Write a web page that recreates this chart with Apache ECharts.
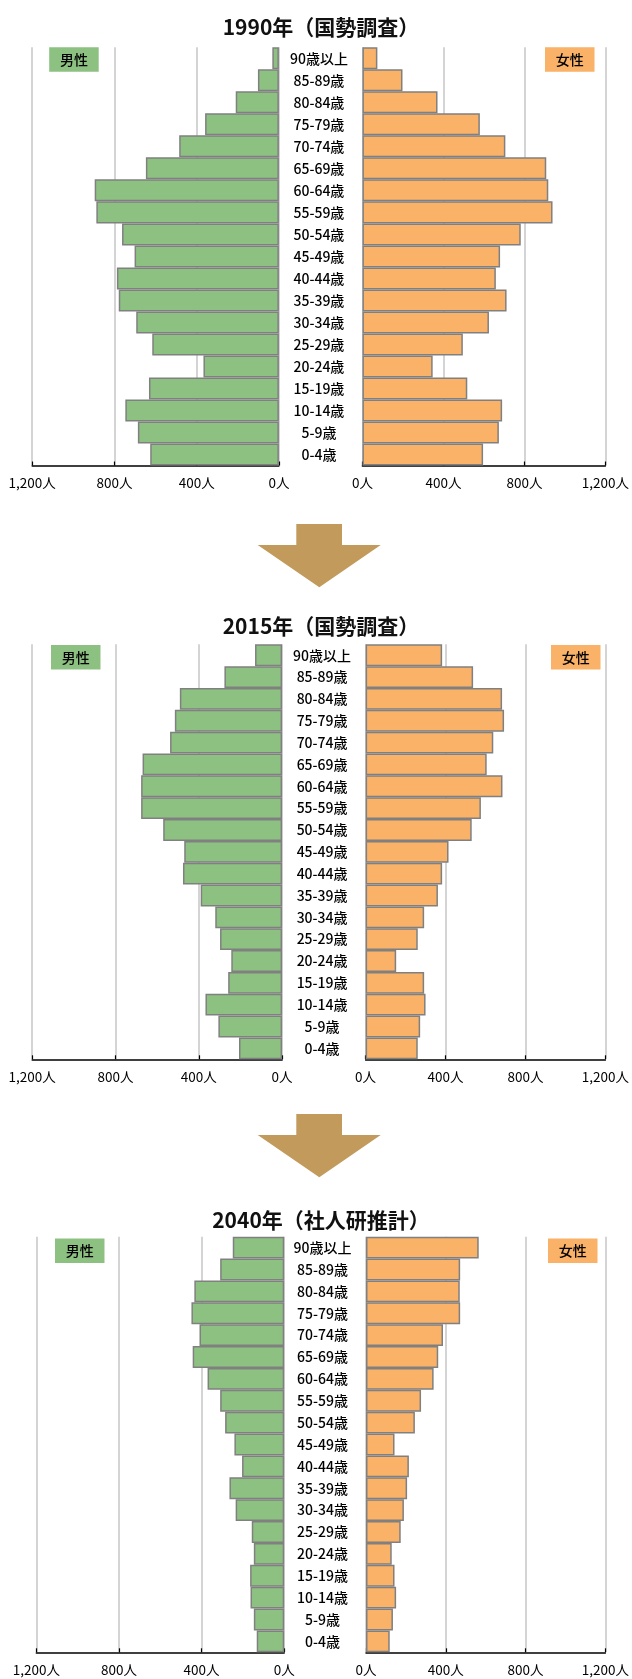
<!DOCTYPE html>
<html>
<head>
<meta charset="utf-8">
<script src="https://cdn.jsdelivr.net/npm/echarts@6/dist/echarts.min.js"></script>
<style>
  html, body { margin: 0; padding: 0; background: #fff; }
  #chart { width: 632px; height: 1679px; }
</style>
</head>
<body>
<div id="chart"></div>
<script>
// Age groups, listed from the youngest (bottom row) to the oldest (top row)
const categories = ['0-4歳', '5-9歳', '10-14歳', '15-19歳', '20-24歳', '25-29歳', '30-34歳',
  '35-39歳', '40-44歳', '45-49歳', '50-54歳', '55-59歳', '60-64歳', '65-69歳', '70-74歳',
  '75-79歳', '80-84歳', '85-89歳', '90歳以上'];

// Population by age group (persons)
const male1990   = [626, 686, 747, 632, 367, 616, 694, 779, 788, 702, 763, 888, 896, 647, 485, 359, 210, 102, 32];
const female1990 = [596, 674, 690, 518, 347, 496, 625, 712, 659, 680, 782, 939, 918, 908, 706, 580, 371, 198, 74];
const male2015   = [207, 306, 368, 259, 244, 298, 321, 391, 476, 470, 571, 677, 677, 670, 538, 515, 491, 277, 130];
const female2015 = [261, 273, 300, 293, 153, 261, 293, 362, 383, 415, 531, 577, 685, 606, 639, 693, 683, 538, 383];
const male2040   = [133, 147, 163, 165, 147, 157, 235, 265, 204, 241, 286, 310, 371, 443, 410, 449, 435, 310, 249];
const female2040 = [119, 135, 151, 143, 129, 174, 190, 206, 215, 143, 245, 276, 339, 362, 386, 472, 470, 472, 565];

const titles = ['1990年（国勢調査）', '2015年（国勢調査）', '2040年（社人研推計）'];
const axisMax = 1200;
const axisStep = 400;

const FONT = '"Noto Sans CJK JP", "Noto Sans", sans-serif';
const GREEN = '#8dc181';
const ORANGE = '#f9b267';
const BORDER = '#808080';
const GRID_LINE = '#c6c6c6';
const ARROW = '#c29a5c';

// Panel geometry for each of the three pyramids
const panels = [
  { male: male1990, female: female1990, titleTop: 12,
    top: 47.3, height: 418.2, lLeft: 32.2, lWidth: 246.7, rLeft: 362.4, rWidth: 246.2,
    mBox: [49.2, 47.3], fBox: [545, 47.3] },
  { male: male2015, female: female2015, titleTop: 611,
    top: 644.3, height: 415, lLeft: 32.2, lWidth: 249.9, rLeft: 365.6, rWidth: 249.9,
    mBox: [51, 645], fBox: [551, 645] },
  { male: male2040, female: female2040, titleTop: 1204.5,
    top: 1236.7, height: 415.6, lLeft: 36.3, lWidth: 247.9, rLeft: 366, rWidth: 245.9,
    mBox: [55, 1238.5], fBox: [548, 1238.5] }
];

function fmt(v) {
  return String(v).replace(/\B(?=(\d{3})+(?!\d))/g, ',') + '人';
}

const grid = [], xAxis = [], yAxis = [], series = [], title = [], graphic = [];

panels.forEach((p, i) => {
  title.push({
    text: titles[i], left: 316, top: p.titleTop, textAlign: 'center',
    textStyle: { fontFamily: FONT, fontSize: 21, fontWeight: 'bold', color: '#111' }
  });

  grid.push({ left: p.lLeft, top: p.top, width: p.lWidth, height: p.height });
  grid.push({ left: p.rLeft, top: p.top, width: p.rWidth, height: p.height });

  [true, false].forEach((isLeft, k) => {
    const gi = i * 2 + k;
    xAxis.push({
      type: 'value', gridIndex: gi, inverse: isLeft, min: 0, max: axisMax, interval: axisStep,
      axisLine: { show: true, lineStyle: { color: '#000', width: 1.5 } },
      axisTick: { show: true, inside: true, length: 4, lineStyle: { color: '#000', width: 1.2 } },
      splitLine: { show: true, lineStyle: { color: GRID_LINE, width: 1.5 } },
      axisLabel: { formatter: fmt, margin: 11, fontFamily: FONT, fontSize: 13.5, color: '#000' }
    });
    yAxis.push({
      type: 'category', gridIndex: gi, data: categories,
      position: 'left',
      axisLine: { show: false }, axisTick: { show: false },
      axisLabel: {
        show: !isLeft, align: 'center', margin: 43.5,
        fontFamily: FONT, fontSize: 14, fontWeight: 500, color: '#000'
      }
    });
    series.push({
      type: 'bar', xAxisIndex: gi, yAxisIndex: gi,
      data: isLeft ? p.male : p.female,
      barCategoryGap: '0%',
      itemStyle: { color: isLeft ? GREEN : ORANGE, borderColor: BORDER, borderWidth: 1.5 },
      silent: true, animation: false
    });
  });

  // Sex badges
  [[p.mBox, '男性', GREEN], [p.fBox, '女性', ORANGE]].forEach(([pos, label, col]) => {
    graphic.push({
      type: 'rect', shape: { x: pos[0], y: pos[1], width: 49.5, height: 24.5 },
      style: { fill: col }, z: 10
    });
    graphic.push({
      type: 'text', x: pos[0] + 24.75, y: pos[1] + 12.5, z: 11,
      style: { text: label, fill: '#000', font: '500 14px ' + FONT, textAlign: 'center', textVerticalAlign: 'middle' }
    });
  });
});

// Down arrows between the pyramids
[[524, 545, 587.3], [1114, 1135, 1177.3]].forEach(([yTop, yBase, yTip]) => {
  graphic.push({
    type: 'polygon', z: 10,
    shape: { points: [[296.3, yTop], [342, yTop], [342, yBase], [380.7, yBase], [319.3, yTip], [257.7, yBase], [296.3, yBase]] },
    style: { fill: ARROW }
  });
});

const chart = echarts.init(document.getElementById('chart'), null, { renderer: 'canvas' });
chart.setOption({
  animation: false,
  backgroundColor: '#fff',
  title, grid, xAxis, yAxis, series, graphic
});
</script>
</body>
</html>
